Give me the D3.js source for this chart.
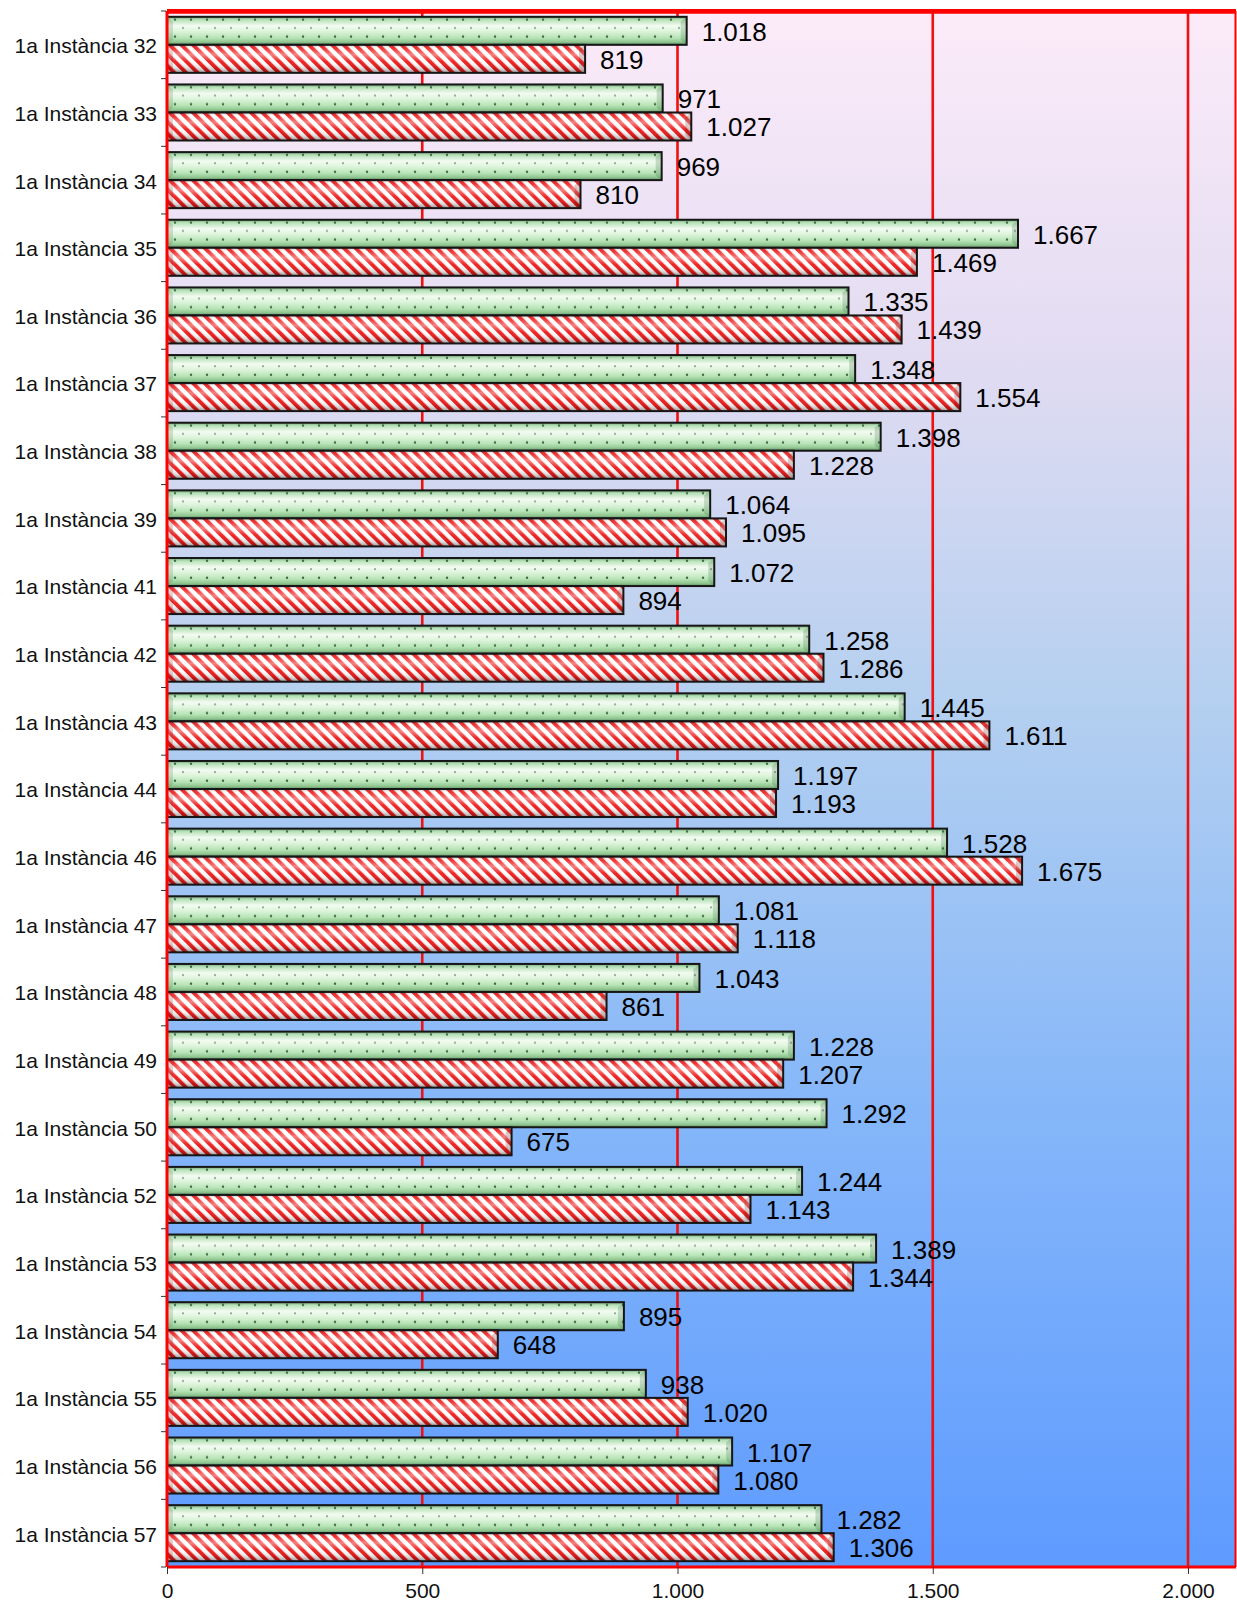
<!DOCTYPE html>
<html>
<head>
<meta charset="utf-8">
<script src="https://cdn.jsdelivr.net/npm/d3@7/dist/d3.min.js"></script>
<style>
  body { margin: 0; background: #fff; }
  text { font-family: "Liberation Sans", Arial, sans-serif; }
</style>
</head>
<body>
<div id="chart"></div>
<script>
// chart data
var categories = ["1a Instància 32", "1a Instància 33", "1a Instància 34", "1a Instància 35",
  "1a Instància 36", "1a Instància 37", "1a Instància 38", "1a Instància 39", "1a Instància 41",
  "1a Instància 42", "1a Instància 43", "1a Instància 44", "1a Instància 46", "1a Instància 47",
  "1a Instància 48", "1a Instància 49", "1a Instància 50", "1a Instància 52", "1a Instància 53",
  "1a Instància 54", "1a Instància 55", "1a Instància 56", "1a Instància 57"];
var greenValues = [1018, 971, 969, 1667, 1335, 1348, 1398, 1064, 1072, 1258, 1445, 1197,
  1528, 1081, 1043, 1228, 1292, 1244, 1389, 895, 938, 1107, 1282];
var redValues = [819, 1027, 810, 1469, 1439, 1554, 1228, 1095, 894, 1286, 1611, 1193,
  1675, 1118, 861, 1207, 675, 1143, 1344, 648, 1020, 1080, 1306];
var xTicks = [0, 500, 1000, 1500, 2000];

var svgWidth = 1237;
var svgHeight = 1603;
var margin = {top: 11, right: 1, bottom: 36, left: 167};
var width = svgWidth - margin.left - margin.right;
var height = svgHeight - margin.top - margin.bottom;

// catalan style numbers: 1.018
var locale = d3.formatLocale({decimal: ",", thousands: ".", grouping: [3], currency: ["", " €"]});
var fmt = locale.format(",d");

var svg = d3.select("#chart")
  .append("svg")
  .attr("width", svgWidth)
  .attr("height", svgHeight);

var defs = svg.append("defs");

// background gradient pink -> blue
var bg = defs.append("linearGradient").attr("id", "bgGrad")
  .attr("x1", 0).attr("y1", 0).attr("x2", 0).attr("y2", 1);
[[0, "#fcebf9"], [0.22, "#e2dcf2"], [0.45, "#b3cff0"], [0.7, "#86b7f9"], [1, "#5e9bff"]]
  .forEach(function(s) { bg.append("stop").attr("offset", s[0]).attr("stop-color", s[1]); });

// green cylinder shading
var gg = defs.append("linearGradient").attr("id", "greenGrad")
  .attr("x1", 0).attr("y1", 0).attr("x2", 0).attr("y2", 1);
[[0, "#6f9f76"], [0.1, "#b5e0b5"], [0.32, "#f3fbf1"], [0.5, "#e0f5de"], [0.75, "#b8e4b6"], [0.9, "#8fc690"], [1, "#5f8c65"]]
  .forEach(function(s) { gg.append("stop").attr("offset", s[0]).attr("stop-color", s[1]); });

// shading overlay for the striped bars
var rg = defs.append("linearGradient").attr("id", "redShade")
  .attr("x1", 0).attr("y1", 0).attr("x2", 0).attr("y2", 1);
[[0, "#000", 0.3], [0.12, "#fff", 0.1], [0.35, "#fff", 0.45], [0.6, "#fff", 0.05], [0.85, "#000", 0.15], [1, "#000", 0.4]]
  .forEach(function(s) {
    rg.append("stop").attr("offset", s[0]).attr("stop-color", s[1]).attr("stop-opacity", s[2]);
  });

// dotted pattern
var dots = defs.append("pattern").attr("id", "dots")
  .attr("patternUnits", "userSpaceOnUse")
  .attr("width", 16).attr("height", 17);
dots.append("circle").attr("cx", 8).attr("cy", 2.7).attr("r", 1.2).attr("fill", "#3a6a48");
dots.append("circle").attr("cx", 0).attr("cy", 11.2).attr("r", 1.1).attr("fill", "#8fa89a");
dots.append("circle").attr("cx", 16).attr("cy", 11.2).attr("r", 1.1).attr("fill", "#8fa89a");

// diagonal stripes
var stripes = defs.append("pattern").attr("id", "stripes")
  .attr("patternUnits", "userSpaceOnUse")
  .attr("width", 8.2).attr("height", 8.2)
  .attr("patternTransform", "rotate(-45)");
stripes.append("rect").attr("width", 8.2).attr("height", 8.2).attr("fill", "#fff");
stripes.append("rect").attr("width", 3.9).attr("height", 8.2).attr("fill", "#ee1a1a");

var chartGroup = svg.append("g")
  .attr("transform", `translate(${margin.left}, ${margin.top})`);

// scales
var x = d3.scaleLinear()
  .domain([0, 2000])
  .range([0, 1021]);

var y0 = d3.scaleBand()
  .domain(categories)
  .range([0, height]);

var y1 = d3.scaleBand()
  .domain(["green", "red"])
  .range([0, y0.bandwidth()])
  .paddingOuter(0.207);

// plot background
chartGroup.append("rect")
  .attr("width", width)
  .attr("height", height)
  .attr("fill", "url(#bgGrad)");

// red gridlines
chartGroup.selectAll(".grid")
  .data(xTicks.slice(1))
  .enter()
  .append("line")
  .attr("x1", d => x(d)).attr("x2", d => x(d))
  .attr("y1", 0).attr("y2", height)
  .attr("stroke", "#f01010")
  .attr("stroke-width", 2.6);

// bars
var rows = categories.map(function(c, i) {
  return {cat: c, green: greenValues[i], red: redValues[i]};
});

function drawBar(sel, key) {
  sel.each(function(d) {
    var w = x(d[key]);
    var h = y1.bandwidth();
    var g = d3.select(this).append("g")
      .attr("transform", `translate(0, ${y0(d.cat) + y1(key)})`);
    if (key === "green") {
      g.append("rect").attr("width", w).attr("height", h).attr("fill", "url(#greenGrad)");
      g.append("rect").attr("width", w).attr("height", h).attr("fill", "url(#dots)");
    } else {
      g.append("rect").attr("width", w).attr("height", h).attr("fill", "url(#stripes)");
      g.append("rect").attr("width", w).attr("height", h).attr("fill", "url(#redShade)");
    }
    // bevelled end
    g.append("polygon")
      .attr("points", `${w},0 ${w},${h} ${w - 6},${h - 5} ${w - 6},5`)
      .attr("fill", key === "green" ? "#2e6a36" : "#600")
      .attr("opacity", 0.22);
    g.append("polygon")
      .attr("points", `0,0 0,${h} 6,${h - 5} 6,5`)
      .attr("fill", key === "green" ? "#2e6a36" : "#600")
      .attr("opacity", 0.18);
    g.append("rect").attr("width", w).attr("height", h)
      .attr("fill", "none")
      .attr("stroke", "#161616")
      .attr("stroke-width", 2);

    // value label
    chartGroup.append("text")
      .attr("x", w + 15)
      .attr("y", y0(d.cat) + y1(key) + h / 2 + 10)
      .attr("font-size", "26px")
      .attr("fill", "#000")
      .text(fmt(d[key]));
  });
}

var barGroup = chartGroup.append("g");
barGroup.selectAll(".row")
  .data(rows)
  .enter()
  .append("g")
  .attr("class", "row")
  .call(drawBar, "green")
  .call(drawBar, "red");

// plot border
chartGroup.append("line").attr("x1", 0).attr("x2", width).attr("y1", 0.3).attr("y2", 0.3)
  .attr("stroke", "#ff0000").attr("stroke-width", 4.7);
chartGroup.append("line").attr("x1", 0).attr("x2", width).attr("y1", height).attr("y2", height)
  .attr("stroke", "#ff0000").attr("stroke-width", 3);
chartGroup.append("line").attr("x1", 0).attr("x2", 0).attr("y1", 0).attr("y2", height)
  .attr("stroke", "#ff0000").attr("stroke-width", 3);
chartGroup.append("line").attr("x1", width - 0.5).attr("x2", width - 0.5).attr("y1", 0).attr("y2", height)
  .attr("stroke", "#ff0000").attr("stroke-width", 2);

// left axis: labels at band centres, ticks at band edges
var leftAxis = d3.axisLeft(y0).tickSize(0).tickPadding(10);
var yAxis = chartGroup.append("g").call(leftAxis);
yAxis.select(".domain").remove();
yAxis.selectAll("text")
  .attr("font-size", "21px")
  .attr("font-family", "Liberation Sans, Arial, sans-serif")
  .attr("fill", "#111")
  .attr("dy", "0.4em");

chartGroup.selectAll(".ytick")
  .data(categories.map(c => y0(c)).concat([height]))
  .enter()
  .append("line")
  .attr("x1", -6).attr("x2", -1)
  .attr("y1", d => d).attr("y2", d => d)
  .attr("stroke", "#333")
  .attr("stroke-width", 1);

// bottom axis
var bottomAxis = d3.axisBottom(x)
  .tickValues(xTicks)
  .tickFormat(fmt)
  .tickSize(7)
  .tickPadding(9);
var xAxis = chartGroup.append("g")
  .attr("transform", `translate(0, ${height})`)
  .call(bottomAxis);
xAxis.select(".domain").remove();
xAxis.selectAll("line").attr("stroke", "#333");
xAxis.selectAll("text")
  .attr("font-size", "21px")
  .attr("font-family", "Liberation Sans, Arial, sans-serif")
  .attr("fill", "#111");
</script>
</body>
</html>
